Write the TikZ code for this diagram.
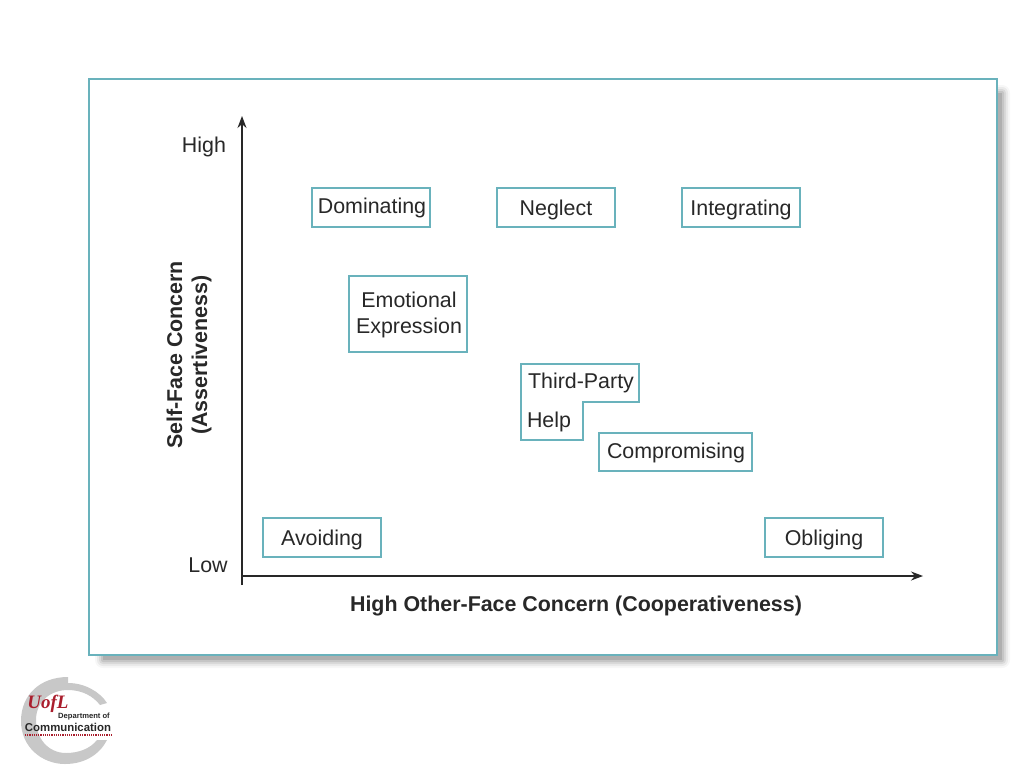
\documentclass[tikz,border=0pt]{standalone}
\usepackage{fontspec}
\setmainfont{Liberation Sans}
\newfontfamily\logoserif{Liberation Serif}
\usetikzlibrary{arrows.meta}
\definecolor{teal1}{RGB}{105,178,188}
\definecolor{ink}{RGB}{40,40,40}
\definecolor{ringgray}{RGB}{200,200,200}
\definecolor{ured}{RGB}{170,30,45}
\tikzset{
  x=1pt,y=-1pt,
  lab/.style={font=\fontsize{21.4}{24}\selectfont,text=ink,inner sep=0pt,anchor=base},
  boldlab/.style={font=\bfseries\fontsize{21.4}{24}\selectfont,text=ink,inner sep=0pt,anchor=base},
  box/.style={draw=teal1,line width=1.2pt,fill=white},
  axis/.style={draw=ink,line width=1.2pt,-{Stealth[length=12pt,width=9pt]}}
}
\begin{document}
\begin{tikzpicture}
\useasboundingbox (0,0) rectangle (1024,768);
\fill[white] (0,0) rectangle (1024,768);
% soft shadow
\foreach \d/\o in {8/0.03,6/0.05,4/0.07,2/0.09,0/0.11}{
  \fill[black,opacity=\o,rounded corners=\d pt] (103-\d,93-\d) rectangle (1002+\d,660+\d);
}
\path[draw=teal1,line width=1.4pt,fill=white] (89,79) rectangle (997,655);
% boxes
\draw[box] (312,188) rectangle (430,227);
\draw[box] (497,188) rectangle (615,227);
\draw[box] (682,188) rectangle (800,227);
\draw[box] (349,276) rectangle (467,352);
\draw[box] (521,364) -- (639,364) -- (639,402) -- (583,402) -- (583,440) -- (521,440) -- cycle;
\draw[box] (599,433) rectangle (752,471);
\draw[box] (263,518) rectangle (381,557);
\draw[box] (765,518) rectangle (883,557);
% axes
\coordinate (origin) at (242,585);
\coordinate (ytop) at (242,116);
\coordinate (xstart) at (242,576);
\coordinate (xend) at (923,576);
\draw[axis] (origin) -- (ytop);
\draw[axis] (xstart) -- (xend);
% labels
\node[lab] (high) at (204,152) {High};
\node[lab] (low) at (208,572) {Low};
\node[lab] (dom) at (372,213) {Dominating};
\node[lab] (neg) at (556,215) {Neglect};
\node[lab] (int) at (741,215) {Integrating};
\node[lab] (emo) at (409,307) {Emotional};
\node[lab] (expr) at (409,333) {Expression};
\node[lab] (tp) at (581,388) {Third-Party};
\node[lab] (help) at (549,427) {Help};
\node[lab] (comp) at (676,458) {Compromising};
\node[lab] (avo) at (322,545) {Avoiding};
\node[lab] (obl) at (824,545) {Obliging};
\node[boldlab] (xlab) at (576,611) {High Other-Face Concern (Cooperativeness)};
\node[boldlab,rotate=90] (ylab1) at (182,355) {Self-Face Concern};
\node[boldlab,rotate=90] (ylab2) at (207,355) {(Assertiveness)};
% logo
\fill[ringgray] (68,677)
  .. controls (40,677) and (21,695) .. (21,721)
  .. controls (21,747) and (42,764) .. (65,764)
  .. controls (85,764) and (100,754) .. (107,740)
  -- (97,740)
  .. controls (90,749) and (78,753) .. (66,753)
  .. controls (48,753) and (36,738) .. (36,720)
  .. controls (36,702) and (50,690) .. (68,690)
  .. controls (82,690) and (93,696) .. (100,705)
  -- (107,703)
  .. controls (100,692) and (85,683) .. (68,683)
  -- cycle;
\node[font=\logoserif\bfseries\itshape\fontsize{19}{19}\selectfont,text=ured,inner sep=0pt] (ul) at (48,704) {UofL};
\node[font=\bfseries\fontsize{7.6}{8}\selectfont,text=ink,inner sep=0pt] (dept) at (84,717) {Department of};
\node[font=\bfseries\fontsize{11.4}{12}\selectfont,text=ink,inner sep=0pt] (com) at (68,727) {Communication};
\coordinate (dotL) at (25,735);
\coordinate (dotR) at (112,735);
\draw[ured,line width=2pt,dash pattern=on 1.2pt off 1pt] (dotL) -- (dotR);
\end{tikzpicture}
\end{document}
